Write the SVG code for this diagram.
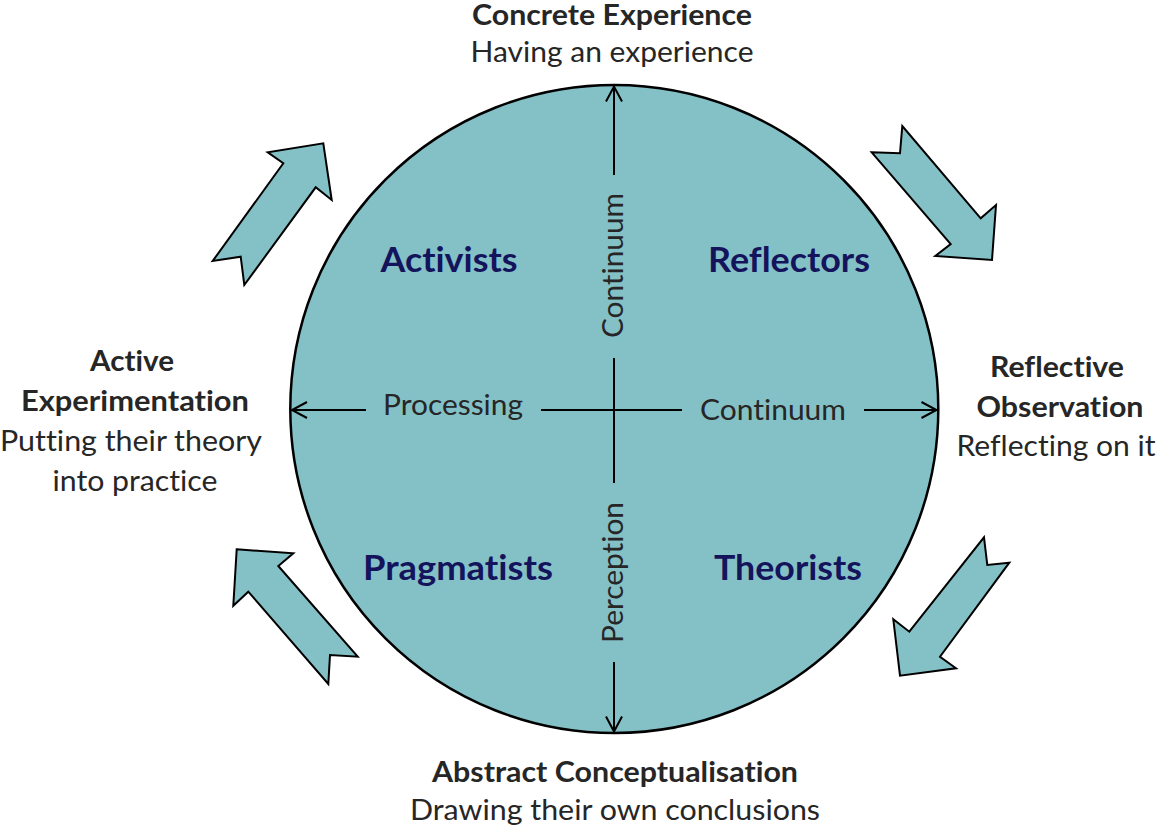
<svg xmlns="http://www.w3.org/2000/svg" width="1157" height="827" viewBox="0 0 1157 827">
<style>
  .t { font-family: Lato, "Liberation Sans", sans-serif; fill: #262626; font-size: 28px; font-variant-ligatures: none; }
  .b { font-weight: bold; }
  .q { font-family: Lato, "Liberation Sans", sans-serif; font-weight: bold; font-size: 34px; fill: #14145c; font-variant-ligatures: none; }
  .ax { stroke: #000; stroke-width: 2; fill: none; }
  .blk { fill: #84c1c7; stroke: #000; stroke-width: 2; stroke-linejoin: miter; }
</style>
<defs>
  <marker id="chev" markerUnits="userSpaceOnUse" markerWidth="20" markerHeight="20" viewBox="-17 -10 20 20" refX="0" refY="0" orient="auto">
    <path d="M-15,-8 L0,0 L-15,8" fill="none" stroke="#000" stroke-width="2"/>
  </marker>
</defs>
<rect width="1157" height="827" fill="#fff"/>

<g id="circle">
  <ellipse cx="614.3" cy="409" rx="324" ry="324" fill="#84c1c7" stroke="#000" stroke-width="2.5"/>
</g>

<g id="connectors">
  <line class="ax" x1="614" y1="175" x2="614" y2="86.5" marker-end="url(#chev)"/>
  <line class="ax" x1="614" y1="358" x2="614" y2="483"/>
  <line class="ax" x1="614" y1="662" x2="614" y2="731.5" marker-end="url(#chev)"/>
  <line class="ax" x1="366" y1="410" x2="292" y2="410" marker-end="url(#chev)"/>
  <line class="ax" x1="541" y1="410" x2="682" y2="410"/>
  <line class="ax" x1="864" y1="410" x2="936.5" y2="410" marker-end="url(#chev)"/>
  <g id="cycle-arrows">
    <polygon class="blk" points="323.3,143.3 331.7,200 315.7,187.3 244.3,285 240.7,256.7 212.7,261 283.3,163.3 267.7,152.3"/>
    <polygon class="blk" points="871.7,152.3 900,153.3 902.3,126 980.7,218.3 996,205 992,260 935.3,256 950.7,244"/>
    <polygon class="blk" points="984,537.3 987.3,565 1009.3,562.7 940,656.7 956,668.3 900,675.7 893.3,619.3 909.3,631.7"/>
    <polygon class="blk" points="236.7,549.3 293.3,553.3 278.3,566 357.7,656.7 330,655 328.3,684 248.3,591.7 233.3,605.7"/>
  </g>
</g>

<g id="axis-labels">
  <text class="t" x="453" y="415" text-anchor="middle" textLength="140" lengthAdjust="spacingAndGlyphs">Processing</text>
  <text class="t" x="773" y="420" text-anchor="middle" textLength="146" lengthAdjust="spacingAndGlyphs">Continuum</text>
  <text class="t" transform="translate(623,265.5) rotate(-90)" text-anchor="middle" textLength="145" lengthAdjust="spacingAndGlyphs">Continuum</text>
  <text class="t" transform="translate(623,572.5) rotate(-90)" text-anchor="middle" textLength="141" lengthAdjust="spacingAndGlyphs">Perception</text>
</g>

<g id="activists"><text class="q" x="449" y="272" text-anchor="middle" textLength="137" lengthAdjust="spacingAndGlyphs">Activists</text></g>
<g id="reflectors"><text class="q" x="789" y="272" text-anchor="middle" textLength="162" lengthAdjust="spacingAndGlyphs">Reflectors</text></g>
<g id="pragmatists"><text class="q" x="458" y="580" text-anchor="middle" textLength="190" lengthAdjust="spacingAndGlyphs">Pragmatists</text></g>
<g id="theorists"><text class="q" x="788" y="580" text-anchor="middle" textLength="148" lengthAdjust="spacingAndGlyphs">Theorists</text></g>

<g id="concrete-experience">
  <text class="t b" x="612" y="25" text-anchor="middle" textLength="280" lengthAdjust="spacingAndGlyphs">Concrete Experience</text>
  <text class="t" x="612" y="62" text-anchor="middle" textLength="283" lengthAdjust="spacingAndGlyphs">Having an experience</text>
</g>
<g id="reflective-observation">
  <text class="t b" x="1057" y="377" text-anchor="middle" textLength="134" lengthAdjust="spacingAndGlyphs">Reflective</text>
  <text class="t b" x="1060" y="417" text-anchor="middle" textLength="167" lengthAdjust="spacingAndGlyphs">Observation</text>
  <text class="t" x="1056" y="456" text-anchor="middle" textLength="199" lengthAdjust="spacingAndGlyphs">Reflecting on it</text>
</g>
<g id="abstract-conceptualisation">
  <text class="t b" x="615" y="782" text-anchor="middle" textLength="366" lengthAdjust="spacingAndGlyphs">Abstract Conceptualisation</text>
  <text class="t" x="615" y="820" text-anchor="middle" textLength="410" lengthAdjust="spacingAndGlyphs">Drawing their own conclusions</text>
</g>
<g id="active-experimentation">
  <text class="t b" x="132" y="371" text-anchor="middle" textLength="84" lengthAdjust="spacingAndGlyphs">Active</text>
  <text class="t b" x="135" y="411" text-anchor="middle" textLength="228" lengthAdjust="spacingAndGlyphs">Experimentation</text>
  <text class="t" x="131" y="451" text-anchor="middle" textLength="262" lengthAdjust="spacingAndGlyphs">Putting their theory</text>
  <text class="t" x="135" y="491" text-anchor="middle" textLength="165" lengthAdjust="spacingAndGlyphs">into practice</text>
</g>
</svg>
